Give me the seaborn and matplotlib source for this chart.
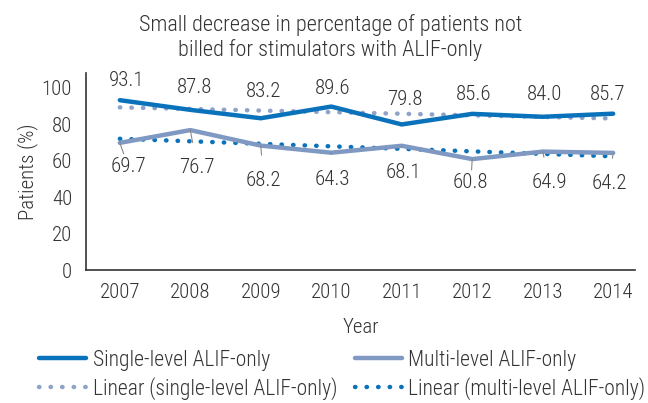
import pandas as pd
import matplotlib
matplotlib.use("Agg")
import matplotlib.pyplot as plt
import seaborn as sns

years = [2007, 2008, 2009, 2010, 2011, 2012, 2013, 2014]
single_level = [93.1, 87.8, 83.2, 89.6, 79.8, 85.6, 84.0, 85.7]
multi_level = [69.7, 76.7, 68.2, 64.3, 68.1, 60.8, 64.9, 64.2]

# label placement (offset points from each point)
single_dx = [5, 3, 2, 1, 2, 1, 1, -4]
single_dy = [14, 16, 19, 13, 18, 14, 16, 14]
multi_dx = [6, 5, 2, 1, 1, -1, 5, -3]
multi_dy = [-17, -27, -25, -19, -19, -17, -22, -22]

df = pd.DataFrame({"year": years, "single": single_level, "multi": multi_level})

sns.set_style("white")
plt.rcParams["font.family"] = ["Roboto Condensed", "DejaVu Sans"]
plt.rcParams["font.weight"] = "light"
plt.rcParams["figure.titleweight"] = "light"
plt.rcParams["axes.labelweight"] = "light"
plt.rcParams["text.color"] = "#333333"
plt.rcParams["axes.labelcolor"] = "#333333"
plt.rcParams["xtick.color"] = "#333333"
plt.rcParams["ytick.color"] = "#333333"

blue = "#0a72ba"
greyblue = "#7f99c2"
dotgrey = "#8fa3c8"
fs = 15

fig = plt.figure(figsize=(6.48, 4.03), dpi=100)
ax = fig.add_axes([86 / 648, 133 / 403, 549 / 648, 197 / 403])

dots = (0, (0.1, 2.5))
sns.regplot(x="year", y="single", data=df, ax=ax, scatter=False, ci=None, truncate=True,
            line_kws=dict(color=dotgrey, lw=3.2, ls=dots, dash_capstyle="round"))
sns.regplot(x="year", y="multi", data=df, ax=ax, scatter=False, ci=None, truncate=True,
            line_kws=dict(color=blue, lw=3.2, ls=dots, dash_capstyle="round"))
sns.lineplot(x="year", y="single", data=df, ax=ax, color=blue, lw=3.2)
sns.lineplot(x="year", y="multi", data=df, ax=ax, color=greyblue, lw=3.2)

for x, y, dx, dy in zip(years, single_level, single_dx, single_dy):
    ax.annotate(f"{y:.1f}", (x, y), xytext=(dx, dy), textcoords="offset points",
                ha="center", va="center", fontsize=fs)
for x, y, dx, dy in zip(years, multi_level, multi_dx, multi_dy):
    ax.annotate(f"{y:.1f}", (x, y), xytext=(dx, dy), textcoords="offset points",
                ha="center", va="center", fontsize=fs,
                arrowprops=dict(arrowstyle="-", color="#888888", lw=0.8,
                                shrinkA=9, shrinkB=0))

ax.set_xlim(2006.52, 2014.31)
ax.set_ylim(0, 108)
ax.set_yticks([0, 20, 40, 60, 80, 100])
ax.set_xticks(years)
ax.set_xticks([2006.52], minor=True)
ax.tick_params(axis="x", which="major", length=0, labelsize=fs, pad=9)
ax.tick_params(axis="x", which="minor", length=8, width=1.2, direction="out")
ax.tick_params(axis="y", length=8, width=1.2, direction="out", labelsize=fs, pad=2)
for s in ["top", "right"]:
    ax.spines[s].set_visible(False)
for s in ["left", "bottom"]:
    ax.spines[s].set_color("#333333")
    ax.spines[s].set_linewidth(1.2)
ax.set_xlabel("Year", fontsize=fs, labelpad=12)
ax.set_ylabel("Patients (%)", fontsize=fs, labelpad=3)

fig.suptitle("Small decrease in percentage of patients not\nbilled for stimulators with ALIF-only",
             x=0.51, y=0.966, fontsize=16, linespacing=1.2)

handles = [
    plt.Line2D([], [], color=blue, lw=3.2),
    plt.Line2D([], [], color=dotgrey, lw=3.2, ls=dots, dash_capstyle="round"),
    plt.Line2D([], [], color=greyblue, lw=3.2),
    plt.Line2D([], [], color=blue, lw=3.2, ls=dots, dash_capstyle="round"),
]
labels = ["Single-level ALIF-only", "Linear (single-level ALIF-only)",
          "Multi-level ALIF-only", "Linear (multi-level ALIF-only)"]
fig.legend(handles, labels, ncol=2, loc="upper left", bbox_to_anchor=(39 / 648, 1 - 350 / 403),
           frameon=False, fontsize=15.5, borderpad=0, borderaxespad=0, handlelength=2.2,
           handletextpad=0.3, columnspacing=0.8, labelspacing=0.28)

fig.savefig("out.png", dpi=100)
